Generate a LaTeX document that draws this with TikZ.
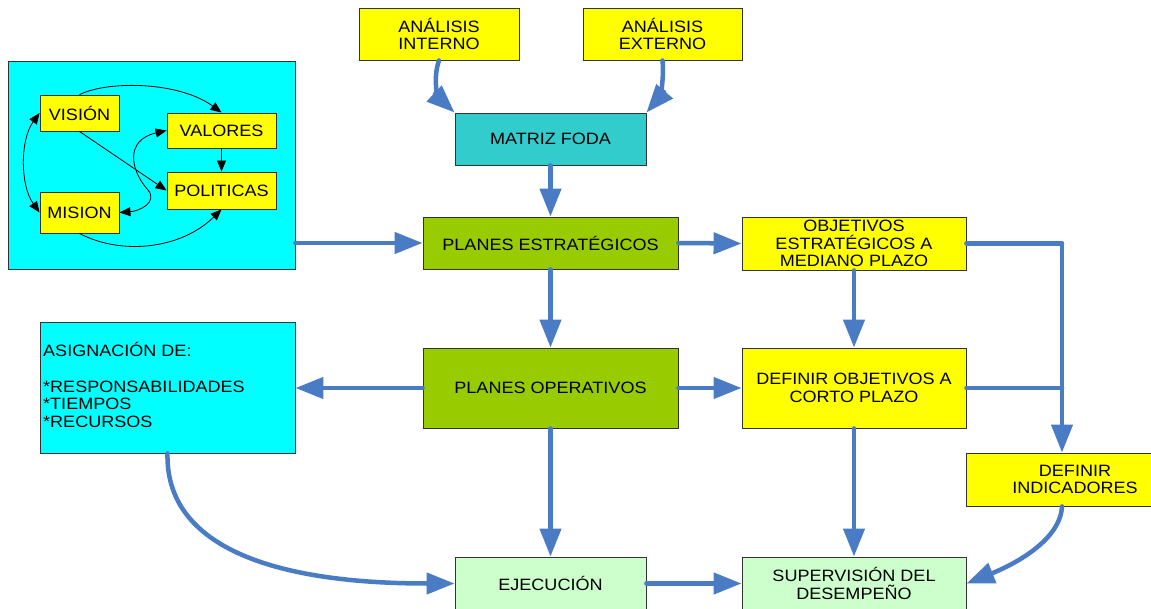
\documentclass[tikz,border=0pt]{standalone}
\usepackage{fontspec}
\setmainfont{Liberation Sans}[FakeStretch=1.1]
\usetikzlibrary{arrows.meta}
\definecolor{flow}{HTML}{4A7BC5}
\definecolor{yel}{HTML}{FFFF00}
\definecolor{aqua}{HTML}{00FFFF}
\definecolor{teal2}{HTML}{33CCCC}
\definecolor{leaf}{HTML}{99CC00}
\definecolor{mint}{HTML}{CCFFCC}
\begin{document}
\begin{tikzpicture}[x=1pt,y=-1pt,
  box/.style={draw=black!80, line width=0.9pt, inner sep=0pt,
    font=\fontsize{16.4}{17.5}\selectfont, align=center},
  linetxt/.style={inner sep=0pt, anchor=base west, font=\fontsize{16.4}{17.5}\selectfont},
  flowarrow/.style={draw=flow, line width=4.5pt, line cap=round,
    -{Triangle[length=28pt,width=21pt]}},
  flowline/.style={draw=flow, line width=4.5pt, line cap=round},
  blk/.style={draw=black, line width=0.8pt, -{Triangle[length=11pt,width=9pt]}},
  blkboth/.style={draw=black, line width=0.8pt,
    {Triangle[length=11pt,width=9pt]}-{Triangle[length=11pt,width=9pt]}}
]
\path[use as bounding box] (0,0) rectangle (1151,609);
\clip (0,0) rectangle (1151,609);

% values cycle
\node[box, fill=aqua, minimum width=287pt, minimum height=208pt] (big) at (151.5,165) {};
\node[box, fill=yel, minimum width=79pt, minimum height=36pt] (vis) at (79.5,113) {VISIÓN};
\node[box, fill=yel, minimum width=109pt, minimum height=35pt] (val) at (221.5,130.5) {VALORES};
\node[box, fill=yel, minimum width=109pt, minimum height=37pt] (pol) at (221.5,190.5) {POLITICAS};
\node[box, fill=yel, minimum width=79pt, minimum height=41pt] (mis) at (79.5,212.5) {MISION};

\draw[blk] (vis.north) .. controls (110,80) and (180,82) .. (val.north);
\draw[blkboth] (vis.west) .. controls (20,140) and (20,185) .. (mis.west);
\draw[blk] (vis.south) -- (pol.west);
\draw[blkboth] (val.west) .. controls (125,140) and (130,170) .. (148,190)
  .. controls (158,202) and (140,211) .. (mis.east);
\draw[blk] (val.south) -- (pol.north);
\draw[blk] (mis.south) .. controls (120,255) and (180,250) .. (pol.south);

% main flow boxes
\node[box, fill=yel, minimum width=160pt, minimum height=52pt] (ai) at (439,34) {ANÁLISIS\\INTERNO};
\node[box, fill=yel, minimum width=159pt, minimum height=52pt] (ae) at (662.5,34) {ANÁLISIS\\EXTERNO};
\node[box, fill=teal2, minimum width=191pt, minimum height=52pt] (foda) at (550.5,139) {MATRIZ FODA};
\node[box, fill=leaf, minimum width=255pt, minimum height=52pt] (pe) at (550.5,243) {PLANES ESTRATÉGICOS};
\node[box, fill=yel, minimum width=224pt, minimum height=53pt] (obj) at (854,243.5) {OBJETIVOS\\ESTRATÉGICOS A\\MEDIANO PLAZO};
\node[box, fill=aqua, minimum width=255pt, minimum height=131pt] (asig) at (167.5,387.5) {};
\node[linetxt] (asig1) at (43,357) {ASIGNACIÓN DE:};
\node[linetxt] (asig2) at (43,392) {*RESPONSABILIDADES};
\node[linetxt] (asig3) at (43,409.5) {*TIEMPOS};
\node[linetxt] (asig4) at (43,427) {*RECURSOS};
\node[box, fill=leaf, minimum width=255pt, minimum height=80pt] (po) at (550.5,388) {PLANES OPERATIVOS};
\node[box, fill=yel, minimum width=224pt, minimum height=80pt] (def) at (854,388) {DEFINIR OBJETIVOS A\\CORTO PLAZO};
\node[box, fill=yel, minimum width=218pt, minimum height=53pt] (ind) at (1075,479.5) {DEFINIR\\INDICADORES};
\node[box, fill=mint, minimum width=191pt, minimum height=53pt] (eje) at (550.5,583.5) {EJECUCIÓN};
\node[box, fill=mint, minimum width=224pt, minimum height=53pt] (sup) at (854,583.5) {SUPERVISIÓN DEL\\DESEMPEÑO};

\coordinate (j1) at (1062,243.5);

% connectors
\draw[flowarrow] (ai.south) .. controls +(-7,20) and +(-15,-14) .. (foda.north west);
\draw[flowarrow] (ae.south) .. controls +(2,22) and +(12,-14) .. (foda.north east);
\draw[flowarrow] (foda.south) -- (pe.north);
\draw[flowarrow] (big.east |- pe.west) -- (pe.west);
\draw[flowarrow] (pe.east) -- (obj.west);
\draw[flowline] (obj.east) -- (j1);
\draw[flowarrow] (j1) -- (j1 |- ind.north);
\draw[flowarrow] (pe.south) -- (po.north);
\draw[flowarrow] (obj.south) -- (def.north);
\draw[flowarrow] (po.west) -- (asig.east |- po.west);
\draw[flowarrow] (po.east) -- (def.west);
\draw[flowline] (def.east) -- (def.east -| j1);
\draw[flowarrow] (po.south) -- (eje.north);
\draw[flowarrow] (def.south) -- (sup.north);
\draw[flowarrow] (j1 |- ind.south) .. controls +(-2,40) and +(30,-12) .. (sup.east);
\draw[flowarrow] (asig.south) .. controls +(-2,87) and +(-195,0) .. (eje.west);
\draw[flowarrow] (eje.east) -- (sup.west);
\end{tikzpicture}
\end{document}
